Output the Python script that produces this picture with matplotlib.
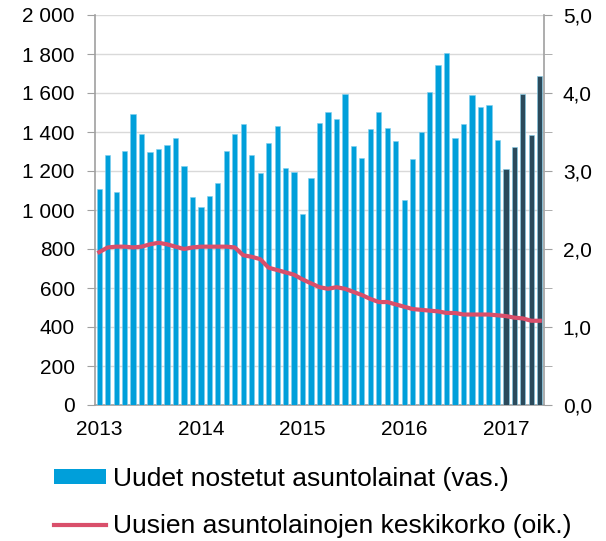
import matplotlib
matplotlib.use("Agg")
import matplotlib.pyplot as plt
import numpy as np
from matplotlib.patches import Patch
from matplotlib.lines import Line2D

plt.rcParams['font.family'] = ['Liberation Sans', 'DejaVu Sans']

# Kuukausittaiset uudet asuntolainat (milj. euroa), tammikuu 2013 - toukokuu 2017
lainat = [1108, 1284, 1092, 1301, 1491, 1388, 1296, 1313, 1333, 1369, 1224, 1067,
          1014, 1070, 1140, 1303, 1391, 1439, 1280, 1191, 1342, 1431, 1214, 1196,
          978, 1164, 1446, 1501, 1465, 1593, 1328, 1268, 1414, 1503, 1422, 1355,
          1051, 1260, 1398, 1605, 1745, 1803, 1369, 1443, 1591, 1527, 1537, 1359,
          1210, 1325, 1595, 1385, 1687]

# Uusien asuntolainojen keskikorko (%)
korko = [1.96, 2.02, 2.03, 2.03, 2.02, 2.03, 2.06, 2.08, 2.06, 2.03, 2.00, 2.02,
         2.03, 2.03, 2.03, 2.03, 2.02, 1.92, 1.90, 1.87, 1.76, 1.73, 1.70, 1.67,
         1.61, 1.56, 1.51, 1.49, 1.51, 1.49, 1.45, 1.41, 1.36, 1.32, 1.32, 1.29,
         1.26, 1.23, 1.22, 1.21, 1.20, 1.18, 1.18, 1.16, 1.16, 1.16, 1.16, 1.15,
         1.14, 1.12, 1.11, 1.08, 1.08]

vuodet = ['2013', '2014', '2015', '2016', '2017']
ennakko_alku = 48  # 2017 tiedot tummemmalla

sininen = '#009FDA'
tumma = '#2B4A5B'
punainen = '#D94F6B'

fig = plt.figure(figsize=(6.06, 5.41), dpi=100)
ax = fig.add_axes([95/606, 1 - 405/541, (544 - 95)/606, 390/541])
ax2 = ax.twinx()

x = np.arange(len(lainat))
varit = [sininen if i < ennakko_alku else tumma for i in x]
ax.bar(x, lainat, width=0.62, color=varit, edgecolor='#7fcfee', linewidth=0.4, zorder=3)
ax.set_ylim(0, 2000)
ax.set_xlim(-0.5, len(lainat) - 0.5)
ax.set_yticks(np.arange(0, 2001, 200))
ax.set_yticklabels([f'{v:,}'.replace(',', ' ') for v in range(0, 2001, 200)])
ax.grid(axis='y', color='#d9d9d9', linewidth=1, zorder=0)
ax.set_axisbelow(True)

ax2.plot(x, korko, color=punainen, linewidth=3, zorder=4)
ax2.set_ylim(0, 5)
ax2.set_yticks(np.arange(0, 5.01, 1))
ax2.set_yticklabels([f'{v:.1f}'.replace('.', ',') for v in np.arange(0, 5.01, 1)])
ax2.set_yticks(np.arange(0, 5.01, 0.5), minor=True)

ax.set_xticks([i * 12 for i in range(len(vuodet))])
ax.set_xticklabels(vuodet)
ax.tick_params(axis='x', length=0, pad=11, labelsize=15)
ax.tick_params(axis='y', length=6, color='#a0a0a0', labelsize=15, pad=8.5)
ax2.tick_params(axis='y', which='both', length=6, color='#a0a0a0', labelsize=15, pad=7.5)

for a in (ax, ax2):
    a.spines['top'].set_visible(False)
    for s in ('left', 'right', 'bottom'):
        a.spines[s].set_color('#a0a0a0')
        a.spines[s].set_linewidth(1.2)
ax.spines['right'].set_visible(False)
ax2.spines['left'].set_visible(False)
ax2.spines['bottom'].set_visible(False)

kahvat = [Patch(facecolor=sininen, edgecolor='none'),
          Line2D([0], [0], color=punainen, linewidth=3)]
nimet = ['Uudet nostetut asuntolainat (vas.)',
         'Uusien asuntolainojen keskikorko (oik.)']
fig.legend(kahvat, nimet, loc='upper left', bbox_to_anchor=(43/606, 1 - 456/541),
           frameon=False, fontsize=19, handlelength=2.0, handleheight=0.5,
           handletextpad=0.25, labelspacing=0.9, borderaxespad=0)

fig.savefig('out.png', dpi=100)
